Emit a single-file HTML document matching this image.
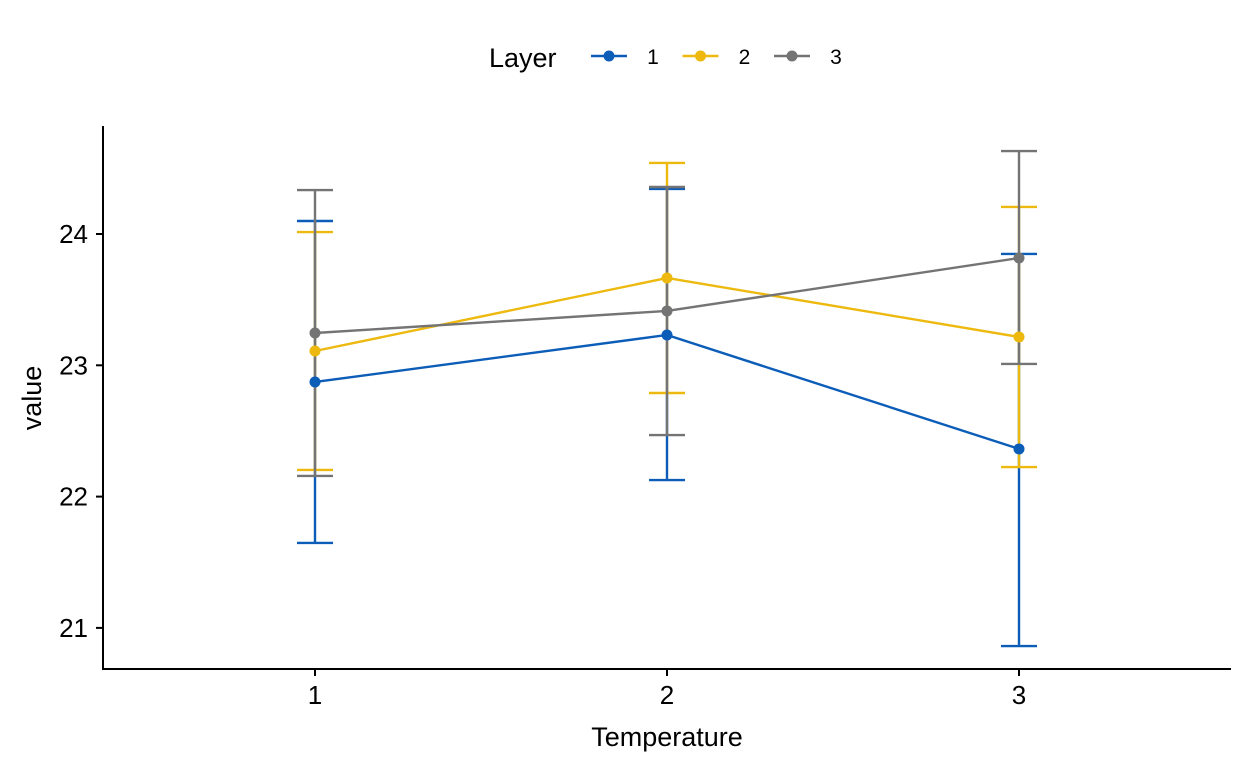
<!DOCTYPE html>
<html><head><meta charset="utf-8"><style>
body{margin:0;background:#fff;}
svg{display:block;font-family:"Liberation Sans",Arial,sans-serif;}
</style></head><body>
<svg id="chart" width="1248" height="768">
<g id="legend">
<text x="489" y="67" font-size="27" fill="#000">Layer</text>
</g>
<g id="plot"></g>
<line x1="103" y1="126" x2="103" y2="670" stroke="#000" stroke-width="2"/>
<line x1="102" y1="669" x2="1231" y2="669" stroke="#000" stroke-width="2"/>
<text x="667" y="746" font-size="27" text-anchor="middle" fill="#000">Temperature</text>
<text transform="translate(41,398) rotate(-90)" font-size="27" text-anchor="middle" fill="#000">value</text>
</svg>
<script>
const categories=["1","2","3"];
const layers=["1","2","3"];
const colors=["#0C5DB8","#EDB90E","#747474"];
const means1=[22.873,23.231,22.363];
const upper1=[24.099,24.343,23.848];
const lower1=[21.647,22.126,20.862];
const means2=[23.109,23.665,23.216];
const upper2=[24.015,24.541,24.206];
const lower2=[22.203,22.789,22.225];
const means3=[23.246,23.414,23.817];
const upper3=[24.335,24.358,24.632];
const lower3=[22.157,22.469,23.010];
const yTicks=[21,22,23,24];
const NS="http://www.w3.org/2000/svg";
const svg=document.getElementById('chart');
const plot=document.getElementById('plot');
const legend=document.getElementById('legend');
function x(i){return 315+i*352;}
function y(v){return 234+(24-v)*131.3;}
function mk(tag,attrs,parent){const e=document.createElementNS(NS,tag);for(const k in attrs)e.setAttribute(k,attrs[k]);(parent||plot).appendChild(e);return e;}
yTicks.forEach(t=>{
  const l=mk('line',{x1:96,x2:103,y1:y(t),y2:y(t),stroke:'#000','stroke-width':2},svg);
  
  
  const tx=mk('text',{x:88,y:y(t)+9,'font-size':26,'text-anchor':'end',fill:'#000'},svg);
  tx.textContent=t;
  
  
});
categories.forEach((c,i)=>{
  const l=mk('line',{x1:x(i),x2:x(i),y1:669,y2:676,stroke:'#000','stroke-width':2},svg);
  
  
  const tx=mk('text',{x:x(i),y:704,'font-size':26,'text-anchor':'middle',fill:'#000'},svg);
  tx.textContent=c;
  
  
});
const series=[[means1,upper1,lower1],[means2,upper2,lower2],[means3,upper3,lower3]];
series.forEach((s,k)=>{
  const col=colors[k];
  s[0].forEach((m,i)=>{
    const g=mk('g',{stroke:col,'stroke-width':2.4,fill:'none'});
    
    
    mk('line',{x1:x(i),x2:x(i),y1:y(s[1][i]),y2:y(s[2][i])},g);
    mk('line',{x1:x(i)-18,x2:x(i)+18,y1:y(s[1][i]),y2:y(s[1][i])},g);
    mk('line',{x1:x(i)-18,x2:x(i)+18,y1:y(s[2][i]),y2:y(s[2][i])},g);
  });
});
series.forEach((s,k)=>{
  const col=colors[k];
  const p=mk('polyline',{points:s[0].map((m,i)=>x(i)+','+y(m)).join(' '),stroke:col,'stroke-width':2.4,fill:'none'});
  
  
});
series.forEach((s,k)=>{
  s[0].forEach((m,i)=>{
    const c=mk('circle',{cx:x(i),cy:y(m),r:5.5,fill:colors[k]});
    
    
  });
});
layers.forEach((L,k)=>{
  const x0=591+k*91.5;
  const g=mk('g',{},legend);
  
  
  mk('line',{x1:x0,x2:x0+36,y1:56,y2:56,stroke:colors[k],'stroke-width':2.4},g);
  mk('circle',{cx:x0+18,cy:56,r:5.5,fill:colors[k]},g);
  const t=mk('text',{x:x0+62,y:64,'font-size':21,'text-anchor':'middle',fill:'#000'},g);
  t.textContent=L;
});
</script>
</body></html>
